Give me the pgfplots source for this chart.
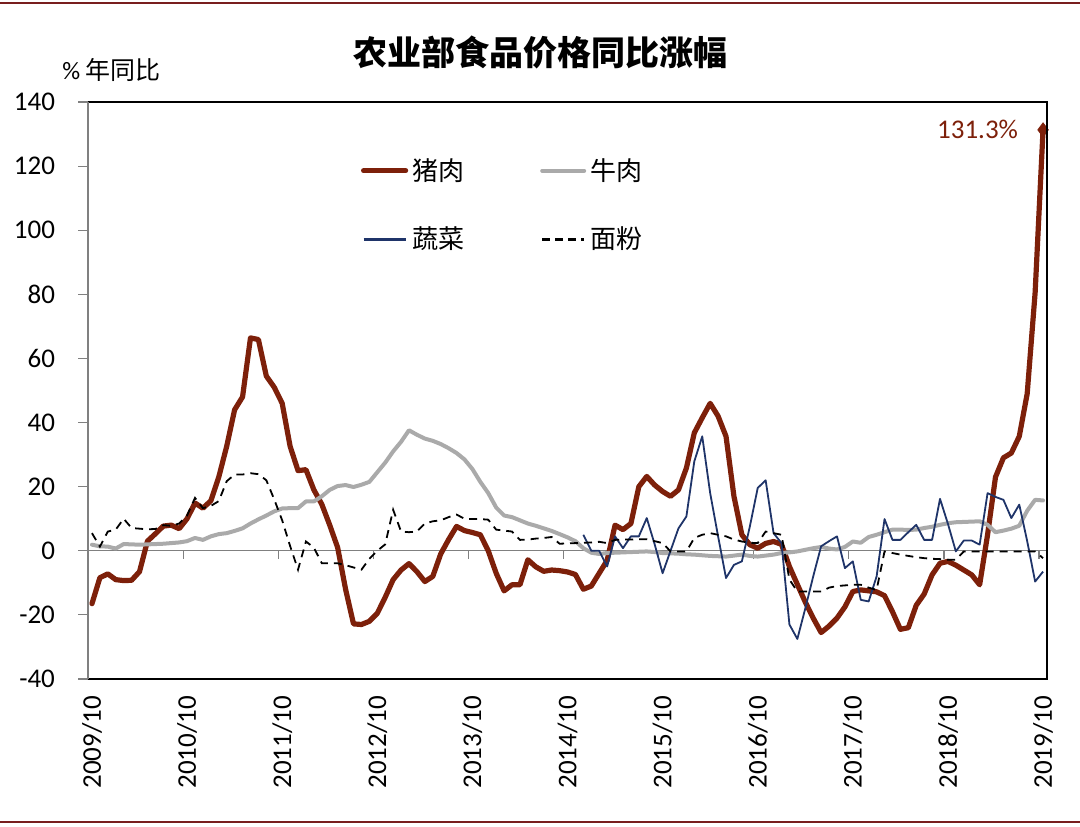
\documentclass[border=0pt]{standalone}
\usepackage{fontspec}
\setmainfont{Carlito}
\newfontfamily\cjk{Noto Sans CJK SC}
\usepackage{pgfplots}
\pgfplotsset{compat=1.18}
\usepackage{pgfplotstable}
\definecolor{pork}{RGB}{125,32,10}
\definecolor{beef}{RGB}{170,170,170}
\definecolor{veg}{RGB}{31,52,105}
\definecolor{frame}{RGB}{120,30,30}

\pgfplotstableread{
k pork beef flour
0 -16.5 1.9 5.5
1 -8.4 1.4 1.3
2 -7.2 1.3 6
3 -9 0.7 6.6
4 -9.3 2.1 10
5 -9.2 2 7.1
6 -6.5 1.9 6.9
7 3 2 6.7
8 5.3 2.1 6.8
9 7.7 2.2 8
10 8 2.4 7.8
11 6.9 2.6 8.5
12 10 3 11
13 14.9 4 16.5
14 13.3 3.4 13.3
15 15.6 4.5 14
16 23 5.2 15.5
17 32.6 5.5 21.7
18 44 6.2 23.8
19 48 7 23.8
20 66.4 8.5 24.2
21 65.9 9.8 23.9
22 54.5 11 22
23 51 12.3 16
24 46 13.2 9.5
25 32.6 13.3 1.5
26 25 13.3 -5.9
27 25.3 15.4 2.9
28 19 15.4 1
29 14.5 17 -3.9
30 8 19 -3.9
31 1 20.2 -3.9
32 -12 20.5 -4.5
33 -22.8 19.9 -5.2
34 -23 20.6 -5.9
35 -22 21.5 -2.5
36 -19.5 24.5 0
37 -14.5 27.5 2
38 -9 31 12.8
39 -6 34 6
40 -4 37.6 5.8
41 -6.5 36.2 6
42 -9.6 35 8.5
43 -8 34.3 9.2
44 -1 33.3 9.5
45 3.5 32 10.5
46 7.6 30.5 11.3
47 6.3 28.5 10
48 5.7 25.5 9.9
49 5 21.5 9.9
50 0 18 9.7
51 -7 13.5 6.6
52 -12.5 11 6.3
53 -10.6 10.5 6
54 -10.6 9.5 3.4
55 -2.8 8.5 3.5
56 -5 7.8 3.8
57 -6.4 7 4
58 -6 6.2 4.3
59 -6.2 5.2 2.2
60 -6.6 4.2 2.3
61 -7.4 3 2.4
62 -12 0.8 2.5
63 -11 -0.6 2.6
64 -7 -1 2.8
65 -3 -0.7 2.4
66 8 -0.6 3.4
67 6.6 -0.5 3.5
68 8.5 -0.4 3.5
69 20 -0.3 3.6
70 23.2 -0.2 3.6
71 20.5 -0.4 3
72 18.5 -0.7 2.4
73 17 -0.8 -0.2
74 19 -0.9 -0.2
75 25.8 -1.1 -0.2
76 36.8 -1.2 4
77 41.5 -1.4 5
78 46 -1.6 5.5
79 42 -1.7 5
80 35.7 -1.8 4.5
81 17 -1.5 3.5
82 5 -1.2 2.9
83 1.9 -1.6 2.5
84 0.8 -1.8 2.4
85 2.3 -1.5 6
86 2.9 -1.2 5.5
87 2 -0.7 5
88 -4.9 -0.5 -9
89 -10.5 -0.2 -12.7
90 -16 0.3 -12.7
91 -21 0.8 -12.7
92 -25.5 1.2 -12.7
93 -23.5 0.7 -11.5
94 -21 0.4 -11
95 -17.5 1.2 -10.8
96 -12.7 2.9 -10.6
97 -12.2 2.5 -10.6
98 -12.5 4.3 -11.5
99 -12.8 5 -12.2
100 -14 5.8 -0.2
101 -19 6.6 -0.7
102 -24.5 6.6 -1.2
103 -24 6.5 -1.6
104 -17 6.6 -2
105 -13.5 7.1 -2.3
106 -7.5 7.5 -2.5
107 -3.9 8.1 -2.6
108 -3.3 8.6 -2.8
109 -4.5 8.9 -2.8
110 -6 9 -0.2
111 -7.5 9.1 -0.2
112 -10.6 9.2 -0.2
113 5 8.1 -0.2
114 23 5.8 -0.2
115 29 6.3 -0.2
116 30.5 6.9 -0.2
117 35.7 7.8 -0.2
118 49 12.5 -0.2
119 80.5 15.9 -0.2
120 131.3 15.7 -2.3
}\maintable

\pgfplotstableread{
k veg
62 5
63 0
64 0
65 -4.9
66 4.5
67 0.8
68 4.5
69 4.5
70 10.2
71 2
72 -7
73 0
74 7
75 10.7
76 27.9
77 35.7
78 18
79 4.5
80 -8.5
81 -4.4
82 -3.3
83 7.5
84 19.6
85 22
86 5.5
87 2.4
88 -23
89 -27.5
90 -18
91 -8
92 1.4
93 3
94 4.5
95 -5.4
96 -3.3
97 -15.3
98 -15.8
99 -8
100 9.9
101 3.4
102 3.4
103 5.8
104 8.1
105 3.4
106 3.4
107 16.2
108 8.4
109 -0.2
110 3.2
111 3.2
112 1.9
113 18
114 16.8
115 15.9
116 10.2
117 14.4
118 3
119 -9.6
120 -6.5
}\vegtable

\begin{document}
\begin{tikzpicture}
\useasboundingbox (0,0) rectangle (540pt,413pt);
\draw[frame, line width=1pt] (0,411.5pt) -- (540pt,411.5pt);
\draw[frame, line width=1pt] (0,1.8pt) -- (540pt,1.8pt);
\node[font=\cjk\bfseries\fontsize{17}{20}\selectfont] at (270pt,387pt) {农业部食品价格同比涨幅};
\node[font=\fontsize{12.5}{15}\selectfont, anchor=west, inner sep=0pt] at (31pt,378pt) {\% {\cjk 年同比}};
\begin{axis}[
  at={(44pt,73.5pt)}, anchor=south west,
  scale only axis, width=479.5pt, height=288.5pt,
  xmin=0, xmax=121, ymin=-40, ymax=140,
  clip mode=individual,
  axis line style={draw=none},
  ytick={-40,-20,...,140},
  xtick={0,12,...,120},
  xticklabels={2009/10,2010/10,2011/10,2012/10,2013/10,2014/10,2015/10,2016/10,2017/10,2018/10,2019/10},
  tick align=outside,
  ytick pos=left,
  xtick pos=bottom,
  major tick length=5pt,
  xtick style={draw=none},
  ytick style={draw=gray, line width=0.6pt},
  /pgf/number format/assume math mode=true,
  ticklabel style={font=\fontsize{13.5}{16}\selectfont},
  yticklabel style={xshift=-8pt},
  xticklabel style={rotate=90, anchor=east, yshift=-2pt},
  legend columns=2,
  legend cell align=left,
  legend style={at={(0.278,0.917)}, anchor=north west, draw=none, fill=none,
    font=\cjk\fontsize{13}{15}\selectfont, row sep=18pt,
    /tikz/every even column/.append style={column sep=36pt}},
  legend image code/.code={\draw[#1] (0pt,0pt) -- (21pt,0pt);},
]
\draw[gray, line width=0.7pt] (axis cs:0,0) -- (axis cs:121,0);
\pgfplotsinvokeforeach{12,24,...,120}{\draw[gray, line width=0.6pt] (axis cs:#1,0) -- ([yshift=-4pt]axis cs:#1,0);}
\addplot[pork, line width=2.6pt, line cap=round, line join=round] table[x expr=\thisrow{k}+0.5, y=pork] {\maintable};
\addlegendentry{猪肉}
\addplot[beef, line width=2pt, line cap=round, line join=round] table[x expr=\thisrow{k}+0.5, y=beef] {\maintable};
\addlegendentry{牛肉}
\addplot[veg, line width=0.9pt, line join=round, legend image post style={line width=1.6pt}] table[x expr=\thisrow{k}+0.5, y=veg] {\vegtable};
\addlegendentry{蔬菜}
\addplot[black, line width=0.9pt, dash pattern=on 4pt off 3pt, legend image post style={line width=1.6pt, dash pattern=on 4pt off 2.5pt}] table[x expr=\thisrow{k}+0.5, y=flour] {\maintable};
\addlegendentry{面粉}
\addplot[pork, only marks, mark=diamond*, mark size=3.5pt, forget plot] coordinates {(120.5,131.3)};
\node[pork, anchor=east, font=\fontsize{13.5}{16}\selectfont] at ([xshift=-9pt]axis cs:120.5,131.3) {131.3\%};
\draw[black, line width=0.75pt] (rel axis cs:0,1) -- (rel axis cs:1,1) -- (rel axis cs:1,0) -- (rel axis cs:0,0);
\draw[gray, line width=0.6pt] (rel axis cs:0,0) -- (rel axis cs:0,1);
\end{axis}
\end{tikzpicture}
\end{document}
